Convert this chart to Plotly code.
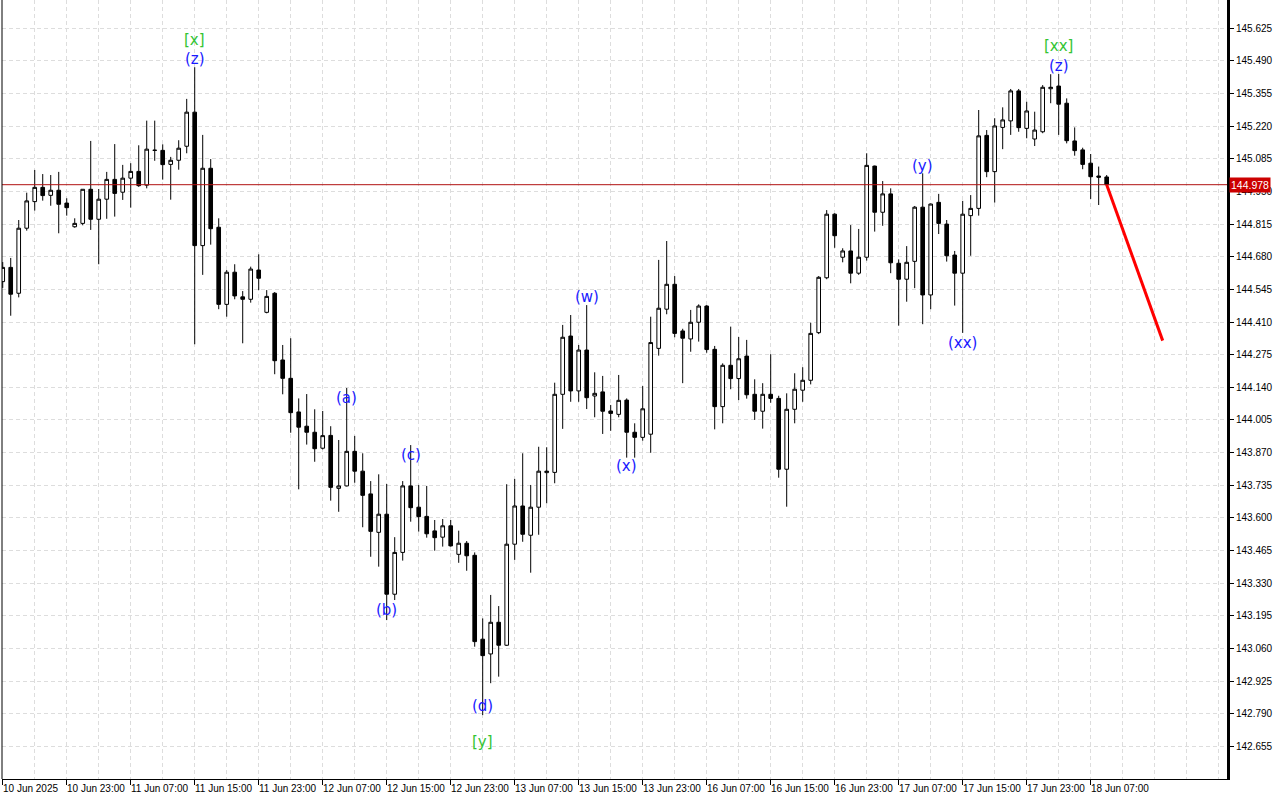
import plotly.graph_objects as go

# ---------------- data (USDJPY-like H1 candles) ----------------
bar_index = list(range(139))
opens = [144.577, 144.636, 144.529, 144.798, 144.908, 144.967, 144.934, 144.955, 144.902, 144.804,
         144.818, 144.959, 144.835, 144.918, 145.000, 144.947, 145.005, 145.033, 144.976, 145.121,
         145.120, 145.062, 145.079, 145.137, 145.278, 144.726, 145.046, 144.802, 144.483, 144.616,
         144.514, 144.504, 144.625, 144.450, 144.529, 144.253, 144.177, 144.038, 143.979, 143.954,
         143.888, 143.941, 143.722, 143.732, 143.875, 143.793, 143.699, 143.540, 143.615, 143.284,
         143.457, 143.732, 143.644, 143.606, 143.546, 143.520, 143.567, 143.449, 143.495, 143.445,
         143.098, 143.037, 143.168, 143.073, 143.491, 143.649, 143.528, 143.644, 143.787, 143.788,
         144.111, 144.352, 144.125, 144.294, 144.104, 144.121, 144.042, 144.028, 144.087, 143.954,
         143.933, 143.946, 144.301, 144.463, 144.566, 144.373, 144.340, 144.409, 144.476, 144.297,
         144.060, 144.231, 144.176, 144.269, 144.111, 144.041, 144.111, 144.094, 143.801, 144.049,
         144.128, 144.169, 144.366, 144.593, 144.856, 144.678, 144.704, 144.612, 144.678, 145.055,
         144.864, 144.940, 144.653, 144.587, 144.661, 144.885, 144.522, 144.905, 144.815, 144.687,
         144.612, 144.850, 144.880, 145.182, 145.032, 145.215, 145.242, 145.366, 145.211, 145.167,
         145.197, 145.375, 145.386, 145.315, 145.159, 145.122, 145.067, 145.014, 145.010]
highs = [144.658, 144.675, 144.832, 144.945, 145.039, 145.022, 145.018, 145.031, 144.922, 144.839,
         144.959, 145.159, 144.960, 145.031, 145.146, 145.060, 145.067, 145.141, 145.243, 145.243,
         145.145, 145.093, 145.162, 145.333, 145.464, 145.184, 145.084, 144.839, 144.625, 144.649,
         144.538, 144.639, 144.690, 144.542, 144.534, 144.315, 144.343, 144.094, 144.112, 144.049,
         144.042, 143.979, 143.922, 144.137, 143.939, 143.867, 143.752, 143.780, 143.740, 143.520,
         143.752, 143.901, 143.736, 143.732, 143.591, 143.595, 143.591, 143.547, 143.504, 143.457,
         143.184, 143.281, 143.235, 143.739, 143.761, 143.867, 143.736, 143.894, 143.892, 144.159,
         144.398, 144.439, 144.315, 144.480, 144.202, 144.187, 144.067, 144.191, 144.094, 143.991,
         144.145, 144.432, 144.667, 144.745, 144.600, 144.382, 144.460, 144.483, 144.480, 144.311,
         144.239, 144.391, 144.348, 144.336, 144.173, 144.157, 144.277, 144.105, 144.115, 144.198,
         144.223, 144.407, 144.600, 144.873, 144.860, 144.715, 144.811, 144.795, 145.108, 145.057,
         144.993, 144.963, 144.669, 144.724, 144.890, 145.025, 144.900, 144.940, 144.832, 144.704,
         144.911, 144.935, 145.287, 145.204, 145.253, 145.298, 145.374, 145.374, 145.321, 145.280,
         145.390, 145.435, 145.436, 145.335, 145.215, 145.131, 145.105, 145.053, 145.018]
lows = [144.551, 144.436, 144.512, 144.788, 144.871, 144.912, 144.891, 144.777, 144.850, 144.800,
        144.810, 144.791, 144.649, 144.837, 144.846, 144.915, 144.883, 144.969, 144.963, 145.077,
        144.999, 144.916, 145.040, 145.108, 144.318, 144.605, 144.730, 144.463, 144.432, 144.504,
        144.322, 144.490, 144.542, 144.446, 144.194, 144.111, 143.952, 143.718, 143.903, 143.832,
        143.883, 143.671, 143.625, 143.730, 143.745, 143.561, 143.439, 143.398, 143.177, 143.260,
        143.423, 143.584, 143.543, 143.518, 143.464, 143.481, 143.481, 143.414, 143.381, 143.067,
        142.784, 142.916, 142.943, 143.070, 143.426, 143.501, 143.373, 143.530, 143.660, 143.743,
        143.968, 144.080, 144.080, 144.050, 144.016, 143.947, 143.960, 144.016, 143.849, 143.849,
        143.919, 143.869, 144.271, 144.442, 144.347, 144.157, 144.287, 144.329, 144.283, 143.966,
        143.991, 144.132, 144.087, 144.093, 144.005, 143.969, 144.076, 143.766, 143.646, 143.991,
        144.080, 144.152, 144.360, 144.587, 144.717, 144.657, 144.570, 144.605, 144.664, 144.784,
        144.808, 144.612, 144.395, 144.494, 144.550, 144.401, 144.463, 144.774, 144.660, 144.478,
        144.365, 144.684, 144.850, 145.009, 144.904, 145.125, 145.184, 145.197, 145.170, 145.138,
        145.191, 145.315, 145.184, 145.149, 145.098, 145.042, 144.919, 144.894, 144.976]
closes = [144.636, 144.525, 144.798, 144.911, 144.967, 144.933, 144.955, 144.897, 144.883, 144.818,
          144.959, 144.835, 144.918, 145.000, 144.942, 145.005, 145.033, 144.974, 145.125, 145.120,
          145.061, 145.079, 145.129, 145.278, 144.726, 145.046, 144.796, 144.483, 144.616, 144.518,
          144.504, 144.629, 144.591, 144.516, 144.250, 144.177, 144.035, 143.975, 143.954, 143.886,
          143.940, 143.726, 143.732, 143.875, 143.793, 143.693, 143.544, 143.615, 143.284, 143.457,
          143.732, 143.642, 143.605, 143.534, 143.518, 143.567, 143.484, 143.495, 143.443, 143.088,
          143.030, 143.168, 143.073, 143.491, 143.649, 143.532, 143.644, 143.793, 143.793, 144.111,
          144.347, 144.125, 144.294, 144.097, 144.115, 144.041, 144.032, 144.086, 143.954, 143.933,
          144.051, 144.325, 144.467, 144.566, 144.363, 144.343, 144.409, 144.476, 144.296, 144.060,
          144.231, 144.176, 144.258, 144.109, 144.041, 144.111, 144.094, 143.801, 144.049, 144.132,
          144.169, 144.363, 144.595, 144.856, 144.767, 144.704, 144.612, 144.678, 145.058, 144.864,
          144.940, 144.655, 144.587, 144.657, 144.885, 144.522, 144.898, 144.818, 144.684, 144.612,
          144.856, 144.880, 145.180, 145.032, 145.221, 145.246, 145.366, 145.214, 145.283, 145.204,
          145.381, 145.381, 145.311, 145.160, 145.119, 145.062, 145.011, 145.009, 144.978]

# time-axis labels every 8 bars
time_tick_bars = list(range(0, 137, 8))
time_tick_labels = ["10 Jun 2025", "10 Jun 23:00", "11 Jun 07:00", "11 Jun 15:00", "11 Jun 23:00",
                    "12 Jun 07:00", "12 Jun 15:00", "12 Jun 23:00", "13 Jun 07:00", "13 Jun 15:00",
                    "13 Jun 23:00", "16 Jun 07:00", "16 Jun 15:00", "16 Jun 23:00", "17 Jun 07:00",
                    "17 Jun 15:00", "17 Jun 23:00", "18 Jun 07:00"]

# price-axis ticks
price_ticks = [142.655, 142.790, 142.925, 143.060, 143.195, 143.330, 143.465, 143.600, 143.735,
               143.870, 144.005, 144.140, 144.275, 144.410, 144.545, 144.680, 144.815, 144.950,
               145.085, 145.220, 145.355, 145.490, 145.625]

current_price = 144.978

# forecast arrow
forecast_bars = [138, 145]
forecast_prices = [144.978, 144.333]

# wave labels
wave_labels = ["[x]", "(z)", "(a)", "(b)", "(c)", "(d)", "[y]", "(w)", "(x)", "(y)", "(xx)", "[xx]", "(z)"]
wave_bars = [24, 24, 43, 48, 51, 60, 60, 73, 78, 115, 120, 132, 132]
wave_prices = [145.577, 145.498, 144.096, 143.219, 143.860, 142.822, 142.673, 144.514, 143.815,
               145.055, 144.323, 145.552, 145.469]
wave_colors = ["#33c433", "#1a1aff", "#1a1aff", "#1a1aff", "#1a1aff", "#1a1aff", "#33c433",
               "#1a1aff", "#1a1aff", "#1a1aff", "#1a1aff", "#33c433", "#1a1aff"]

# ---------------- figure ----------------
fig = go.Figure()

fig.add_trace(go.Candlestick(
    x=bar_index, open=opens, high=highs, low=lows, close=closes,
    increasing=dict(line=dict(color="black", width=1), fillcolor="white"),
    decreasing=dict(line=dict(color="black", width=1), fillcolor="black"),
    whiskerwidth=0, hoverinfo="skip", showlegend=False,
))

fig.add_trace(go.Scatter(
    x=forecast_bars, y=forecast_prices, mode="lines",
    line=dict(color="#ff0000", width=3), hoverinfo="skip", showlegend=False,
))

for txt, bx, py, col in zip(wave_labels, wave_bars, wave_prices, wave_colors):
    fig.add_annotation(x=bx, y=py, xref="x", yref="y", text=txt, showarrow=False,
                       font=dict(family="DejaVu Sans", size=15, color=col),
                       xanchor="center", yanchor="middle")

for bx, lab in zip(time_tick_bars, time_tick_labels):
    fig.add_annotation(x=bx, y=0, xref="x", yref="paper", text=lab, showarrow=False,
                       font=dict(family="Liberation Sans", size=10, color="black"),
                       xanchor="left", yanchor="top", xshift=-2, yshift=-2)

# current price line + label
fig.add_shape(type="line", xref="paper", yref="y", x0=0, x1=1, y0=current_price, y1=current_price,
              line=dict(color="#b01010", width=1), layer="above")
fig.add_annotation(x=1, y=current_price, xref="paper", yref="y", text=f"{current_price:.3f}",
                   showarrow=False, xanchor="left", yanchor="middle", xshift=2,
                   font=dict(family="Liberation Sans", size=10.5, color="white"),
                   bgcolor="#cc0000", borderpad=1)

# left border
fig.add_shape(type="line", xref="paper", yref="paper", x0=0, x1=0, y0=0, y1=1,
              line=dict(color="black", width=1))

fig.update_layout(
    width=1280, height=800,
    margin=dict(l=2, r=53, t=0, b=21, autoexpand=False),
    paper_bgcolor="white", plot_bgcolor="white",
    boxgap=0.35,
    xaxis=dict(
        range=[-0.09, 153.04], rangeslider=dict(visible=False),
        tickmode="array", tickvals=time_tick_bars, ticktext=[""] * len(time_tick_bars),
        ticks="outside", ticklen=5, tickcolor="black", tickwidth=1,
        showgrid=True, gridcolor="#dddddd", griddash="4px,3px", gridwidth=1,
        minor=dict(tickmode="linear", tick0=0, dtick=4, showgrid=True, gridcolor="#dddddd",
                   griddash="4px,3px", ticks=""),
        showline=True, linecolor="black", linewidth=1, zeroline=False, fixedrange=True,
    ),
    yaxis=dict(
        side="right", range=[142.5197, 145.742],
        tickmode="array", tickvals=price_ticks, ticktext=[f"{v:.3f}" for v in price_ticks],
        ticks="outside", ticklen=4, tickcolor="black",
        tickfont=dict(family="Liberation Sans", size=10, color="black"),
        showgrid=True, gridcolor="#dddddd", griddash="4px,3px", gridwidth=1,
        showline=True, linecolor="black", linewidth=3, zeroline=False, fixedrange=True,
    ),
)

fig.write_html("out.html", config={"displayModeBar": False},
               post_script="document.body.style.margin='0';document.body.style.overflow='hidden';")
